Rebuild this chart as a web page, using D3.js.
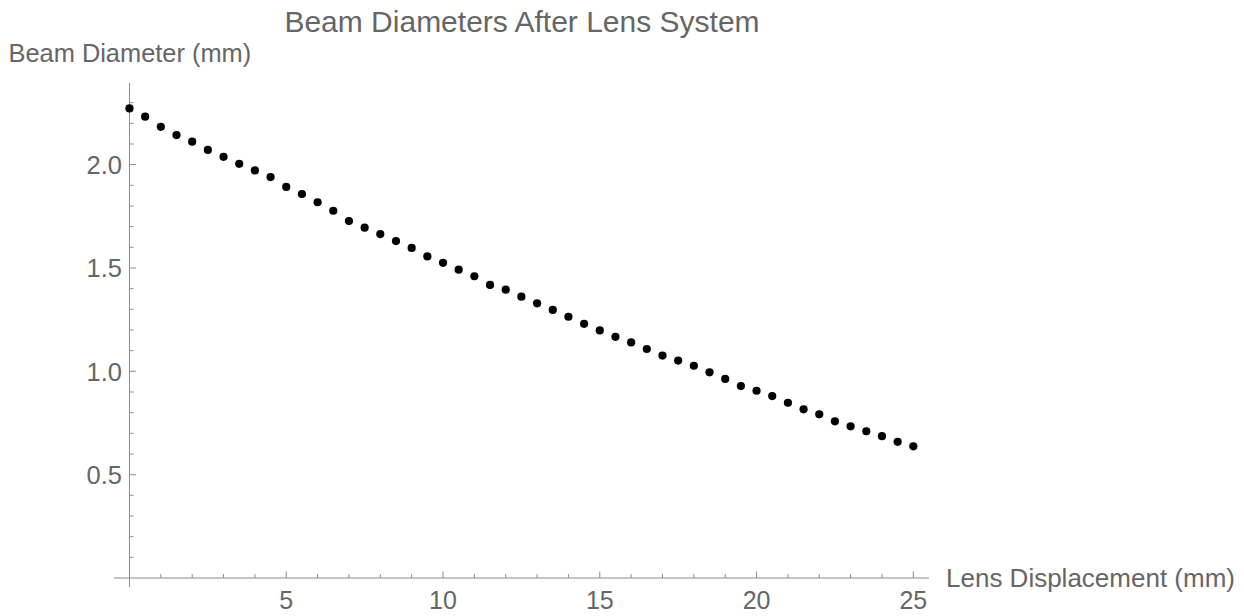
<!DOCTYPE html>
<html>
<head>
<meta charset="utf-8">
<script src="https://cdn.jsdelivr.net/npm/d3@7"></script>
<style>
  html, body { margin: 0; padding: 0; background: #fff; }
  svg text { font-family: "Liberation Sans", Arial, Helvetica, sans-serif; fill: #666; }
</style>
</head>
<body>
<svg id="chart" width="1244" height="616"></svg>
<script>
// Lens displacement (mm), sampled every 0.5 mm
const displacement = d3.range(0, 25.001, 0.5);
// Measured beam diameter (mm) at each displacement
const diameter = [
  2.272, 2.232, 2.183, 2.143, 2.111, 2.071, 2.038, 2.004, 1.972, 1.940,
  1.892, 1.858, 1.818, 1.777, 1.727, 1.695, 1.664, 1.630, 1.597, 1.556,
  1.525, 1.492, 1.460, 1.418, 1.395, 1.361, 1.329, 1.297, 1.264, 1.230,
  1.198, 1.167, 1.140, 1.108, 1.076, 1.052, 1.027, 0.995, 0.963, 0.929,
  0.906, 0.880, 0.848, 0.816, 0.792, 0.758, 0.734, 0.710, 0.686, 0.659,
  0.637
];
const xMajorTicks = [5, 10, 15, 20, 25];
const yMajorTicks = [0.5, 1.0, 1.5, 2.0];
const xMinorTicks = d3.range(1, 26, 1).filter(v => v % 5 !== 0);
const yMinorTicks = d3.range(1, 24).map(v => v / 10).filter(v => Math.round(v * 10) % 5 !== 0);

const svg = d3.select("#chart");

const x = d3.scaleLinear().domain([-0.5, 25.5]).range([113.8, 929.0]);
const y = d3.scaleLinear().domain([-0.044, 2.395]).range([587.1, 83]);

const axisColor = "#8c8c8c";
const x0 = x(0), y0 = y(0);

// axes lines crossing at the origin
svg.append("line")
  .attr("x1", x(-0.5)).attr("x2", x(25.5))
  .attr("y1", y0).attr("y2", y0)
  .attr("stroke", axisColor).attr("stroke-width", 1);
svg.append("line")
  .attr("x1", x0).attr("x2", x0)
  .attr("y1", y(-0.044)).attr("y2", y(2.395))
  .attr("stroke", axisColor).attr("stroke-width", 1);

// x ticks (drawn inward, i.e. upward)
const xt = svg.append("g");
xt.selectAll("line.minor").data(xMinorTicks).join("line")
  .attr("x1", d => x(d)).attr("x2", d => x(d))
  .attr("y1", y0).attr("y2", y0 - 4)
  .attr("stroke", axisColor);
xt.selectAll("line.major").data(xMajorTicks).join("line")
  .attr("x1", d => x(d)).attr("x2", d => x(d))
  .attr("y1", y0).attr("y2", y0 - 6.5)
  .attr("stroke", axisColor);
xt.selectAll("text").data(xMajorTicks).join("text")
  .attr("x", d => x(d)).attr("y", 608.5)
  .attr("text-anchor", "middle")
  .style("font-size", "25px")
  .text(d => d3.format("d")(d));

// y ticks (drawn inward, i.e. to the right)
const yt = svg.append("g");
yt.selectAll("line.minor").data(yMinorTicks).join("line")
  .attr("x1", x0).attr("x2", x0 + 4)
  .attr("y1", d => y(d)).attr("y2", d => y(d))
  .attr("stroke", axisColor);
yt.selectAll("line.major").data(yMajorTicks).join("line")
  .attr("x1", x0).attr("x2", x0 + 6.5)
  .attr("y1", d => y(d)).attr("y2", d => y(d))
  .attr("stroke", axisColor);
yt.selectAll("text").data(yMajorTicks).join("text")
  .attr("x", 122).attr("y", d => y(d) + 9.5)
  .attr("text-anchor", "end")
  .style("font-size", "25.5px")
  .text(d => d3.format(".1f")(d));

// data points
svg.append("g").selectAll("circle")
  .data(displacement.map((d, i) => [d, diameter[i]]))
  .join("circle")
  .attr("cx", d => x(d[0]))
  .attr("cy", d => y(d[1]))
  .attr("r", 4.1)
  .attr("fill", "#000");

// titles
svg.append("text")
  .attr("x", 522).attr("y", 31.5)
  .attr("text-anchor", "middle")
  .style("font-size", "30px")
  .text("Beam Diameters After Lens System");
svg.append("text")
  .attr("x", 8.5).attr("y", 61.5)
  .style("font-size", "25.4px")
  .text("Beam Diameter (mm)");
svg.append("text")
  .attr("x", 946).attr("y", 587)
  .style("font-size", "26px")
  .text("Lens Displacement (mm)");
</script>
</body>
</html>
